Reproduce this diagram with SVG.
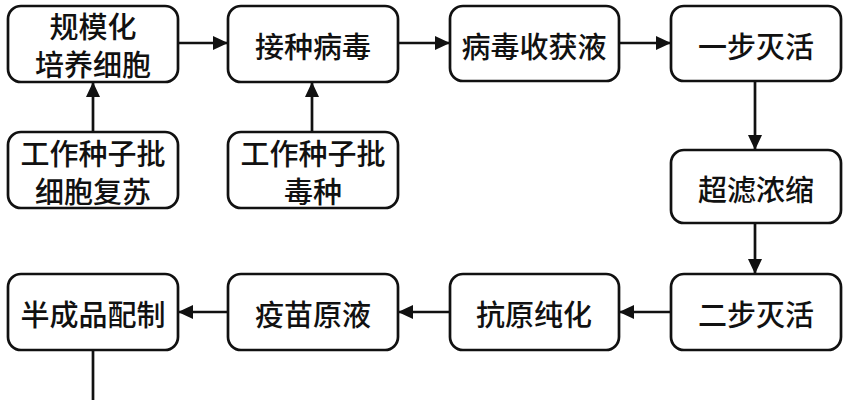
<svg xmlns="http://www.w3.org/2000/svg" width="848" height="400" viewBox="0 0 848 400">
<style>
.box{fill:#fff;stroke:#111;stroke-width:2.7}
.t{font-family:"Noto Sans CJK SC","Noto Sans",sans-serif;font-size:29px;font-weight:500;fill:#111;text-anchor:middle;dominant-baseline:central}
.c{stroke:#111;stroke-width:2.7;fill:none}
</style>
<defs>
<marker id="ah" markerUnits="userSpaceOnUse" markerWidth="16" markerHeight="14" refX="15" refY="7" orient="auto">
<path d="M0,0 L15,7 L0,14 Z" fill="#111"/>
</marker>
</defs>
<rect width="848" height="400" fill="#fff"/>
<g id="connectors">
<path class="c" d="M178,43 H228" marker-end="url(#ah)"/>
<path class="c" d="M398,43 H450" marker-end="url(#ah)"/>
<path class="c" d="M619,43 H671" marker-end="url(#ah)"/>
<path class="c" d="M755,81 V150" marker-end="url(#ah)"/>
<path class="c" d="M755,223 V274" marker-end="url(#ah)"/>
<path class="c" d="M671,312 H619" marker-end="url(#ah)"/>
<path class="c" d="M450,312 H398" marker-end="url(#ah)"/>
<path class="c" d="M228,312 H178" marker-end="url(#ah)"/>
<path class="c" d="M93,132 V82" marker-end="url(#ah)"/>
<path class="c" d="M312,132 V82" marker-end="url(#ah)"/>
<path class="c" d="M93,350 V400"/>
</g>
<g id="n1"><rect class="box" x="8" y="6" width="170" height="76" rx="13"/><text class="t" x="93" y="25">规模化</text><text class="t" x="93" y="63">培养细胞</text></g>
<g id="n2"><rect class="box" x="228" y="6" width="170" height="76" rx="13"/><text class="t" x="313" y="45">接种病毒</text></g>
<g id="n3"><rect class="box" x="450" y="6" width="169" height="75" rx="13"/><text class="t" x="534" y="45">病毒收获液</text></g>
<g id="n4"><rect class="box" x="671" y="6" width="170" height="75" rx="13"/><text class="t" x="756" y="45">一步灭活</text></g>
<g id="n5"><rect class="box" x="8" y="132" width="170" height="76" rx="13"/><text class="t" x="93" y="152">工作种子批</text><text class="t" x="93" y="190">细胞复苏</text></g>
<g id="n6"><rect class="box" x="228" y="132" width="170" height="76" rx="13"/><text class="t" x="313" y="152">工作种子批</text><text class="t" x="313" y="190">毒种</text></g>
<g id="n7"><rect class="box" x="671" y="150" width="170" height="73" rx="13"/><text class="t" x="756" y="188">超滤浓缩</text></g>
<g id="n8"><rect class="box" x="8" y="274" width="170" height="76" rx="13"/><text class="t" x="93" y="313">半成品配制</text></g>
<g id="n9"><rect class="box" x="228" y="274" width="170" height="76" rx="13"/><text class="t" x="313" y="313">疫苗原液</text></g>
<g id="n10"><rect class="box" x="450" y="274" width="169" height="76" rx="13"/><text class="t" x="534" y="313">抗原纯化</text></g>
<g id="n11"><rect class="box" x="671" y="274" width="170" height="76" rx="13"/><text class="t" x="756" y="313">二步灭活</text></g>
</svg>
